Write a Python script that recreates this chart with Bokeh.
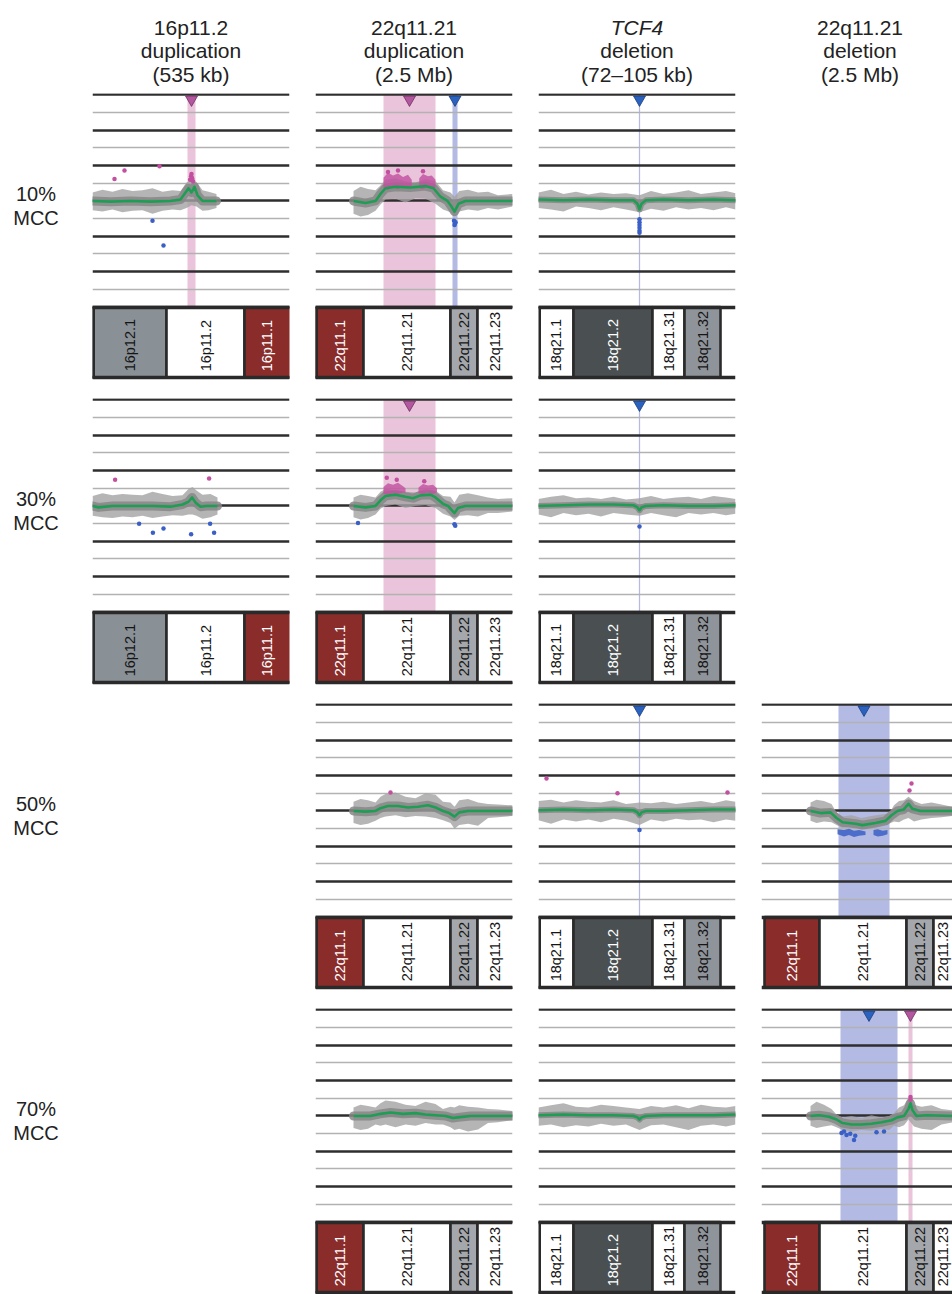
import math
from bokeh.plotting import figure
from bokeh.layouts import row, column
from bokeh.models import Spacer, Range1d
from bokeh.core.properties import value
from bokeh.embed import file_html
from bokeh.resources import INLINE

FONT = "Liberation Sans"

# ---------------- text ----------------
col_title_1 = ["16p11.2", "22q11.21", "TCF4", "22q11.21"]
col_title_2 = ["duplication", "duplication", "deletion", "deletion"]
col_title_3 = ["(535 kb)", "(2.5 Mb)", "(72\u2013105 kb)", "(2.5 Mb)"]
col_title_italic = [False, False, True, False]
row_labels = ["10%", "30%", "50%", "70%"]
row_label_2 = "MCC"

# ---------------- cytobands (Mb) ----------------
chr16_name = ["16p12.1", "16p11.2", "16p11.1"]
chr16_start = [25.90, 29.70, 33.60]
chr16_end = [29.70, 33.60, 36.50]
chr16_stain = ["gpos50", "gneg", "acen"]

chr22_name = ["22q11.1", "22q11.21", "22q11.22", "22q11.23"]
chr22_start = [16.72, 18.92, 22.40, 23.48]
chr22_end = [18.92, 22.40, 23.48, 25.50]
chr22_stain = ["acen", "gneg", "gpos25", "gneg"]

chr18_name = ["18q21.1", "18q21.2", "18q21.31", "18q21.32"]
chr18_start = [49.90, 51.40, 54.56, 55.84]
chr18_end = [51.40, 54.56, 55.84, 57.28]
chr18_stain = ["gneg", "gpos75", "gneg", "gpos50b"]

stain_fill = {"gneg": "#ffffff", "gpos25": "#a4a7ab", "gpos50": "#899096",
              "gpos50b": "#8f949a", "gpos75": "#4a4f52", "acen": "#8a2c2a"}
stain_text = {"gneg": "#151515", "gpos25": "#151515", "gpos50": "#151515",
              "gpos50b": "#151515", "gpos75": "#ffffff", "acen": "#ffffff"}

# visible window of each column (Mb)
col_x0 = [26.00, 17.00, 50.00, 16.60]
col_x1 = [35.85, 24.88, 57.88, 24.24]

# ---------------- column 1 : 16p11.2 duplication ----------------
r1c1_cloud_x = [26.0, 26.5, 27.0, 27.5, 28.0, 28.5, 29.0, 29.5, 30.0, 30.4, 30.7, 30.95, 31.2, 31.5, 31.8, 32.2]
r1c1_cloud_hi = [0.12, 0.16, 0.13, 0.17, 0.14, 0.15, 0.18, 0.13, 0.15, 0.14, 0.26, 0.30, 0.27, 0.15, 0.13, 0.10]
r1c1_cloud_lo = [-0.13, -0.15, -0.12, -0.16, -0.14, -0.13, -0.18, -0.14, -0.12, -0.13, -0.10, -0.06, -0.08, -0.14, -0.13, -0.10]
r1c1_fit_x = [26.0, 26.9, 27.9, 28.9, 29.9, 30.4, 30.65, 30.8, 30.95, 31.1, 31.25, 31.5, 32.2]
r1c1_fit_y = [0.0, -0.01, 0.0, -0.01, 0.0, 0.02, 0.12, 0.18, 0.12, 0.20, 0.08, 0.0, 0.0]
r1c1_gain_x = [27.1, 27.6, 29.35, 30.88, 30.93, 30.98, 31.03, 30.95]
r1c1_gain_y = [0.31, 0.43, 0.49, 0.30, 0.35, 0.32, 0.28, 0.38]
r1c1_loss_x = [29.0, 29.55]
r1c1_loss_y = [-0.28, -0.63]
r1c1_dup_regions = [(30.75, 31.15)]

r2c1_cloud_x = [26.0, 26.5, 27.0, 27.5, 28.0, 28.5, 29.0, 29.5, 30.0, 30.5, 30.8, 31.0, 31.2, 31.5, 31.9, 32.25]
r2c1_cloud_hi = [0.14, 0.18, 0.15, 0.17, 0.16, 0.15, 0.20, 0.17, 0.14, 0.15, 0.24, 0.27, 0.22, 0.16, 0.17, 0.12]
r2c1_cloud_lo = [-0.14, -0.16, -0.17, -0.15, -0.16, -0.14, -0.17, -0.15, -0.13, -0.14, -0.12, -0.12, -0.14, -0.18, -0.16, -0.12]
r2c1_fit_x = [26.0, 26.3, 27.0, 28.0, 29.0, 29.9, 30.5, 30.8, 30.98, 31.15, 31.4, 31.7, 32.25]
r2c1_fit_y = [0.0, -0.02, 0.0, 0.0, 0.0, -0.01, 0.02, 0.06, 0.12, 0.05, -0.01, 0.0, 0.0]
r2c1_gain_x = [27.13, 31.83]
r2c1_gain_y = [0.37, 0.39]
r2c1_loss_x = [28.33, 29.02, 29.55, 30.93, 31.88, 32.08]
r2c1_loss_y = [-0.25, -0.38, -0.32, -0.40, -0.25, -0.38]

# ---------------- column 2 : 22q11.21 duplication ----------------
c2_cloud_x = [18.52, 18.8, 19.1, 19.4, 19.6, 19.8, 20.2, 20.6, 21.0, 21.4, 21.8, 22.1, 22.4, 22.56, 22.75, 23.1, 23.5, 23.9, 24.3, 24.88]

r1c2_cloud_hi = [0.14, 0.20, 0.17, 0.15, 0.22, 0.30, 0.32, 0.28, 0.26, 0.31, 0.28, 0.15, 0.12, 0.06, 0.14, 0.16, 0.12, 0.13, 0.08, 0.10]
r1c2_cloud_lo = [-0.18, -0.22, -0.20, -0.14, -0.05, 0.02, 0.03, -0.02, 0.04, 0.03, -0.04, -0.12, -0.16, -0.22, -0.15, -0.12, -0.14, -0.10, -0.12, -0.08]
r1c2_fit_x = [18.52, 19.0, 19.4, 19.6, 19.8, 20.2, 20.8, 21.4, 21.72, 22.0, 22.28, 22.44, 22.56, 22.72, 23.0, 24.88]
r1c2_fit_y = [0.0, -0.03, 0.0, 0.10, 0.18, 0.20, 0.19, 0.21, 0.18, 0.06, 0.0, -0.08, -0.15, -0.04, 0.0, 0.0]
r1c2_gainc1_x = [19.72, 19.9, 20.1, 20.3, 20.5, 20.7, 20.85]
r1c2_gainc1_hi = [0.33, 0.40, 0.36, 0.39, 0.34, 0.37, 0.30]
r1c2_gainc1_lo = [0.18, 0.16, 0.19, 0.17, 0.20, 0.18, 0.20]
r1c2_gainc2_x = [21.15, 21.3, 21.5, 21.65, 21.8]
r1c2_gainc2_hi = [0.32, 0.38, 0.35, 0.36, 0.30]
r1c2_gainc2_lo = [0.18, 0.17, 0.20, 0.17, 0.19]
r1c2_gain_x = [19.9, 20.3, 21.3]
r1c2_gain_y = [0.41, 0.43, 0.42]
r1c2_loss_x = [22.54, 22.58, 22.56, 22.60]
r1c2_loss_y = [-0.28, -0.32, -0.34, -0.30]
r1c2_dup_regions = [(19.72, 21.80)]
r1c2_del_regions = [(22.48, 22.68)]

r2c2_cloud_hi = [0.12, 0.16, 0.14, 0.12, 0.20, 0.24, 0.22, 0.20, 0.19, 0.24, 0.22, 0.14, 0.13, 0.05, 0.16, 0.18, 0.15, 0.12, 0.10, 0.11]
r2c2_cloud_lo = [-0.16, -0.19, -0.17, -0.12, -0.04, 0.0, 0.02, -0.03, 0.0, 0.01, -0.03, -0.11, -0.15, -0.20, -0.14, -0.13, -0.15, -0.10, -0.10, -0.08]
r2c2_fit_x = [18.52, 19.0, 19.4, 19.6, 19.8, 20.2, 20.6, 20.9, 21.2, 21.6, 21.8, 22.1, 22.3, 22.45, 22.56, 22.7, 23.0, 24.88]
r2c2_fit_y = [0.0, -0.02, 0.0, 0.08, 0.14, 0.16, 0.13, 0.11, 0.15, 0.16, 0.12, 0.03, 0.0, -0.06, -0.10, -0.03, 0.0, 0.0]
r2c2_gainc1_x = [19.72, 19.9, 20.1, 20.3, 20.5, 20.6]
r2c2_gainc1_hi = [0.27, 0.32, 0.30, 0.33, 0.28, 0.25]
r2c2_gainc1_lo = [0.17, 0.16, 0.18, 0.17, 0.19, 0.19]
r2c2_gainc2_x = [21.12, 21.3, 21.5, 21.7, 21.86]
r2c2_gainc2_hi = [0.26, 0.31, 0.29, 0.30, 0.25]
r2c2_gainc2_lo = [0.18, 0.17, 0.19, 0.17, 0.19]
r2c2_gain_x = [19.85, 20.25, 21.35]
r2c2_gain_y = [0.40, 0.37, 0.35]
r2c2_loss_x = [22.56, 22.59, 18.70]
r2c2_loss_y = [-0.26, -0.28, -0.24]
r2c2_dup_regions = [(19.72, 21.80)]

r3c2_cloud_hi = [0.13, 0.17, 0.15, 0.12, 0.20, 0.24, 0.26, 0.20, 0.18, 0.25, 0.23, 0.13, 0.12, 0.06, 0.15, 0.17, 0.12, 0.10, 0.09, 0.08]
r3c2_cloud_lo = [-0.17, -0.20, -0.18, -0.14, -0.10, -0.08, -0.06, -0.09, -0.07, -0.08, -0.10, -0.13, -0.17, -0.25, -0.20, -0.18, -0.21, -0.10, -0.09, -0.07]
r3c2_fit_x = [18.52, 19.0, 19.4, 19.6, 19.9, 20.3, 20.7, 21.1, 21.5, 21.8, 22.1, 22.35, 22.56, 22.75, 23.1, 24.88]
r3c2_fit_y = [0.0, -0.01, 0.0, 0.04, 0.07, 0.07, 0.05, 0.06, 0.08, 0.05, 0.0, -0.03, -0.08, -0.02, 0.0, 0.0]
r3c2_gain_x = [20.0]
r3c2_gain_y = [0.26]

r4c2_cloud_hi = [0.12, 0.16, 0.14, 0.12, 0.18, 0.22, 0.20, 0.16, 0.14, 0.20, 0.17, 0.10, 0.13, 0.12, 0.15, 0.13, 0.12, 0.10, 0.09, 0.07]
r4c2_cloud_lo = [-0.17, -0.20, -0.18, -0.12, -0.14, -0.12, -0.16, -0.12, -0.14, -0.10, -0.12, -0.12, -0.16, -0.20, -0.18, -0.22, -0.19, -0.10, -0.09, -0.06]
r4c2_fit_x = [18.52, 19.2, 19.6, 20.0, 20.5, 21.0, 21.4, 21.8, 22.2, 22.5, 22.7, 23.2, 24.88]
r4c2_fit_y = [0.0, 0.0, 0.03, 0.05, 0.03, 0.04, 0.02, 0.01, 0.0, -0.03, -0.02, 0.0, 0.0]

# ---------------- column 3 : TCF4 deletion ----------------
c3_cloud_x = [50.0, 50.5, 51.0, 51.5, 52.0, 52.5, 53.0, 53.5, 54.04, 54.5, 55.0, 55.5, 56.0, 56.5, 57.0, 57.5, 57.88]
c3_fit_x = [50.0, 51.0, 52.0, 53.0, 53.8, 53.96, 54.04, 54.12, 54.3, 55.0, 56.0, 57.0, 57.88]
c3_del_regions = [(54.015, 54.065)]

r1c3_cloud_hi = [0.12, 0.16, 0.10, 0.13, 0.09, 0.12, 0.10, 0.11, 0.08, 0.14, 0.10, 0.12, 0.15, 0.10, 0.12, 0.14, 0.11]
r1c3_cloud_lo = [-0.10, -0.12, -0.15, -0.08, -0.10, -0.13, -0.09, -0.12, -0.16, -0.11, -0.14, -0.09, -0.12, -0.10, -0.13, -0.09, -0.12]
r1c3_fit_y = [0.02, 0.01, 0.02, 0.01, 0.01, -0.04, -0.12, -0.04, 0.01, 0.02, 0.01, 0.02, 0.01]
r1c3_loss_x = [54.04, 54.04, 54.04, 54.04, 54.04, 54.04]
r1c3_loss_y = [-0.26, -0.30, -0.34, -0.38, -0.42, -0.45]

r2c3_cloud_hi = [0.10, 0.13, 0.15, 0.11, 0.12, 0.10, 0.13, 0.09, 0.11, 0.14, 0.10, 0.12, 0.13, 0.10, 0.14, 0.12, 0.10]
r2c3_cloud_lo = [-0.12, -0.16, -0.10, -0.13, -0.11, -0.15, -0.10, -0.12, -0.14, -0.10, -0.13, -0.16, -0.10, -0.12, -0.10, -0.13, -0.11]
r2c3_fit_y = [0.0, 0.01, 0.02, 0.02, 0.01, -0.02, -0.06, -0.02, 0.0, 0.01, 0.0, 0.0, 0.01]
r2c3_loss_x = [54.04]
r2c3_loss_y = [-0.29]

r3c3_cloud_hi = [0.14, 0.16, 0.12, 0.15, 0.13, 0.12, 0.15, 0.10, 0.12, 0.11, 0.13, 0.10, 0.12, 0.14, 0.11, 0.15, 0.13]
r3c3_cloud_lo = [-0.13, -0.18, -0.12, -0.15, -0.12, -0.16, -0.11, -0.14, -0.20, -0.12, -0.15, -0.11, -0.13, -0.12, -0.16, -0.12, -0.14]
r3c3_fit_y = [0.01, 0.02, 0.01, 0.02, 0.01, -0.02, -0.06, -0.02, 0.0, 0.0, 0.01, 0.02, 0.02]
r3c3_gain_x = [50.32, 53.16, 57.56]
r3c3_gain_y = [0.46, 0.25, 0.26]
r3c3_loss_x = [54.04]
r3c3_loss_y = [-0.27]

r4c3_cloud_hi = [0.12, 0.15, 0.18, 0.13, 0.12, 0.16, 0.14, 0.12, 0.10, 0.14, 0.12, 0.15, 0.11, 0.16, 0.13, 0.12, 0.14]
r4c3_cloud_lo = [-0.14, -0.12, -0.16, -0.13, -0.15, -0.11, -0.14, -0.12, -0.20, -0.13, -0.12, -0.16, -0.20, -0.14, -0.12, -0.15, -0.12]
r4c3_fit_y = [0.01, 0.02, 0.01, 0.01, 0.0, -0.02, -0.05, -0.02, 0.0, 0.01, 0.01, 0.01, 0.02]

# ---------------- column 4 : 22q11.21 deletion ----------------
c4_cloud_x = [18.56, 18.8, 19.1, 19.4, 19.6, 19.84, 20.2, 20.6, 21.0, 21.4, 21.7, 21.9, 22.1, 22.3, 22.48, 22.7, 23.0, 23.4, 23.8, 24.24]

r3c4_cloud_hi = [0.12, 0.16, 0.14, 0.10, -0.02, -0.08, -0.06, -0.10, -0.07, -0.05, -0.04, 0.08, 0.14, 0.15, 0.20, 0.14, 0.10, 0.12, 0.09, 0.06]
r3c4_cloud_lo = [-0.14, -0.17, -0.15, -0.16, -0.20, -0.24, -0.22, -0.25, -0.23, -0.20, -0.18, -0.15, -0.16, -0.12, -0.10, -0.15, -0.12, -0.10, -0.09, -0.07]
r3c4_fit_x = [18.56, 18.96, 19.36, 19.6, 19.84, 20.36, 20.64, 21.16, 21.56, 21.8, 22.04, 22.28, 22.48, 22.64, 22.96, 24.24]
r3c4_fit_y = [0.0, -0.03, -0.02, -0.10, -0.16, -0.18, -0.20, -0.17, -0.14, -0.06, 0.0, 0.02, 0.10, 0.03, 0.0, 0.0]
r3c4_lossc1_x = [19.64, 19.9, 20.1, 20.3, 20.5, 20.76]
r3c4_lossc1_hi = [-0.26, -0.27, -0.25, -0.28, -0.27, -0.29]
r3c4_lossc1_lo = [-0.33, -0.36, -0.34, -0.37, -0.35, -0.34]
r3c4_lossc2_x = [21.08, 21.25, 21.45, 21.64]
r3c4_lossc2_hi = [-0.27, -0.26, -0.28, -0.27]
r3c4_lossc2_lo = [-0.34, -0.36, -0.35, -0.33]
r3c4_gain_x = [22.60, 22.52]
r3c4_gain_y = [0.39, 0.29]
r3c4_del_regions = [(19.68, 21.72)]

r4c4_cloud_hi = [0.14, 0.20, 0.16, 0.10, 0.02, -0.02, 0.0, -0.03, 0.01, -0.02, 0.0, 0.04, 0.12, 0.15, 0.26, 0.16, 0.13, 0.15, 0.10, 0.08]
r4c4_cloud_lo = [-0.14, -0.17, -0.15, -0.13, -0.16, -0.20, -0.22, -0.20, -0.21, -0.18, -0.20, -0.14, -0.16, -0.13, -0.05, -0.15, -0.18, -0.20, -0.12, -0.09]
r4c4_fit_x = [18.56, 18.9, 19.3, 19.6, 19.84, 20.2, 20.6, 21.0, 21.4, 21.8, 22.04, 22.3, 22.48, 22.56, 22.64, 22.8, 23.2, 24.24]
r4c4_fit_y = [0.0, 0.01, -0.01, -0.05, -0.10, -0.12, -0.12, -0.11, -0.09, -0.06, -0.02, 0.0, 0.10, 0.18, 0.08, 0.0, 0.01, 0.0]
r4c4_loss_x = [19.8, 19.9, 20.0, 20.15, 20.3, 20.35, 21.2, 21.5]
r4c4_loss_y = [-0.24, -0.22, -0.27, -0.25, -0.34, -0.28, -0.23, -0.22]
r4c4_gain_x = [22.56, 22.56]
r4c4_gain_y = [0.27, 0.23]
r4c4_del_regions = [(19.76, 22.04)]
r4c4_dup_regions = [(22.48, 22.64)]

# ---------------- assemble panels ----------------
def pan(cx, hi, lo, fx, fy, gain=((), ()), loss=((), ()), gclust=(), lclust=(), dup=(), dele=()):
    return dict(cx=cx, hi=hi, lo=lo, fx=fx, fy=fy, gain=gain, loss=loss,
                gclust=gclust, lclust=lclust, dup=dup, dele=dele)

PANELS = {
    (0, 0): pan(r1c1_cloud_x, r1c1_cloud_hi, r1c1_cloud_lo, r1c1_fit_x, r1c1_fit_y,
                (r1c1_gain_x, r1c1_gain_y), (r1c1_loss_x, r1c1_loss_y), dup=r1c1_dup_regions),
    (1, 0): pan(r2c1_cloud_x, r2c1_cloud_hi, r2c1_cloud_lo, r2c1_fit_x, r2c1_fit_y,
                (r2c1_gain_x, r2c1_gain_y), (r2c1_loss_x, r2c1_loss_y)),
    (0, 1): pan(c2_cloud_x, r1c2_cloud_hi, r1c2_cloud_lo, r1c2_fit_x, r1c2_fit_y,
                (r1c2_gain_x, r1c2_gain_y), (r1c2_loss_x, r1c2_loss_y),
                gclust=[(r1c2_gainc1_x, r1c2_gainc1_hi, r1c2_gainc1_lo), (r1c2_gainc2_x, r1c2_gainc2_hi, r1c2_gainc2_lo)],
                dup=r1c2_dup_regions, dele=r1c2_del_regions),
    (1, 1): pan(c2_cloud_x, r2c2_cloud_hi, r2c2_cloud_lo, r2c2_fit_x, r2c2_fit_y,
                (r2c2_gain_x, r2c2_gain_y), (r2c2_loss_x, r2c2_loss_y),
                gclust=[(r2c2_gainc1_x, r2c2_gainc1_hi, r2c2_gainc1_lo), (r2c2_gainc2_x, r2c2_gainc2_hi, r2c2_gainc2_lo)],
                dup=r2c2_dup_regions),
    (2, 1): pan(c2_cloud_x, r3c2_cloud_hi, r3c2_cloud_lo, r3c2_fit_x, r3c2_fit_y,
                (r3c2_gain_x, r3c2_gain_y)),
    (3, 1): pan(c2_cloud_x, r4c2_cloud_hi, r4c2_cloud_lo, r4c2_fit_x, r4c2_fit_y),
    (0, 2): pan(c3_cloud_x, r1c3_cloud_hi, r1c3_cloud_lo, c3_fit_x, r1c3_fit_y,
                loss=(r1c3_loss_x, r1c3_loss_y), dele=c3_del_regions),
    (1, 2): pan(c3_cloud_x, r2c3_cloud_hi, r2c3_cloud_lo, c3_fit_x, r2c3_fit_y,
                loss=(r2c3_loss_x, r2c3_loss_y), dele=c3_del_regions),
    (2, 2): pan(c3_cloud_x, r3c3_cloud_hi, r3c3_cloud_lo, c3_fit_x, r3c3_fit_y,
                (r3c3_gain_x, r3c3_gain_y), (r3c3_loss_x, r3c3_loss_y), dele=c3_del_regions),
    (3, 2): pan(c3_cloud_x, r4c3_cloud_hi, r4c3_cloud_lo, c3_fit_x, r4c3_fit_y),
    (2, 3): pan(c4_cloud_x, r3c4_cloud_hi, r3c4_cloud_lo, r3c4_fit_x, r3c4_fit_y,
                (r3c4_gain_x, r3c4_gain_y),
                lclust=[(r3c4_lossc1_x, r3c4_lossc1_hi, r3c4_lossc1_lo), (r3c4_lossc2_x, r3c4_lossc2_hi, r3c4_lossc2_lo)],
                dele=r3c4_del_regions),
    (3, 3): pan(c4_cloud_x, r4c4_cloud_hi, r4c4_cloud_lo, r4c4_fit_x, r4c4_fit_y,
                (r4c4_gain_x, r4c4_gain_y), (r4c4_loss_x, r4c4_loss_y),
                dup=r4c4_dup_regions, dele=r4c4_del_regions),
}

COL_BANDS = [
    (chr16_name, chr16_start, chr16_end, chr16_stain),
    (chr22_name, chr22_start, chr22_end, chr22_stain),
    (chr18_name, chr18_start, chr18_end, chr18_stain),
    (chr22_name, chr22_start, chr22_end, chr22_stain),
]

# ---------------- layout / style ----------------
LABEL_W = 92
FRAME_W = 197
CELL_W = 223
LAST_W = 191
HEADER_H = 93
FRAME_H = 287
ROW_GAP = 18
LAST_FRAME_H = 286
PX_PER_UNIT = 70.7
YTOP = 1.52
PLOT_TOP = 1.5
IDEO_TOP = -1.5
IDEO_BOT = -2.5
THICK = [1.5, 1.0, 0.5, 0.0, -0.5, -1.0]
THIN = [1.25, 0.75, 0.25, -0.25, -0.75, -1.25]

DUP_BAND = "#e9c4da"
DEL_BAND = "#b3bae4"
DUP_TRI = "#b3579e"
DEL_TRI = "#2b62c0"
GAIN = "#c24f9f"
LOSS = "#3a5fc6"
GREEN = "#1e9e54"
CLOUD = "#a2a2a2"
CORE = "#878787"
CORE_W = [9, 9, 6, 9]


def base_fig(w, h, fh, x0, x1, right_border):
    ylo = YTOP - fh / PX_PER_UNIT
    p = figure(width=w, height=h, x_range=Range1d(x0, x1), y_range=Range1d(ylo, YTOP),
               output_backend="svg", toolbar_location=None, title=None,
               x_axis_location=None, y_axis_location=None,
               min_border_left=0, min_border_right=right_border,
               min_border_top=0, min_border_bottom=h - fh,
               outline_line_color=None, background_fill_color="white",
               border_fill_color="white")
    p.xgrid.visible = False
    p.ygrid.visible = False
    return p


def make_panel(ri, ci):
    last_row = ri == 3
    last_col = ci == 3
    fh = LAST_FRAME_H if last_row else FRAME_H
    h = fh if last_row else FRAME_H + ROW_GAP
    w = LAST_W if last_col else CELL_W
    fw = LAST_W if last_col else FRAME_W
    key = (ri, ci)
    if key not in PANELS:
        return Spacer(width=w, height=h)
    d = PANELS[key]
    x0, x1 = col_x0[ci], col_x1[ci]
    p = base_fig(w, h, fh, x0, x1, w - fw)

    # highlighted CNV regions
    for regs, col in ((d["dup"], DUP_BAND), (d["dele"], DEL_BAND)):
        if regs:
            p.quad(left=[r[0] for r in regs], right=[r[1] for r in regs],
                   top=PLOT_TOP, bottom=IDEO_TOP, fill_color=col, line_color=None)

    # reference lines
    p.hspan(y=THIN, line_color="#b2b2b2", line_width=1.6)
    p.hspan(y=THICK, line_color="#2e2e2e", line_width=2.6)

    # ideogram
    names, st, en, stain = COL_BANDS[ci]
    p.quad(left=st, right=en, top=IDEO_TOP, bottom=IDEO_BOT,
           fill_color=[stain_fill[s] for s in stain], line_color="#2a2a2a", line_width=2.6)
    if st[0] < x0:
        p.segment(x0=[x0], y0=[IDEO_TOP], x1=[x0], y1=[IDEO_BOT], line_color="#2a2a2a", line_width=5)
    p.hspan(y=[IDEO_TOP, IDEO_BOT], line_color="#2a2a2a", line_width=3.6)
    cx, nm, tc = [], [], []
    for n, a, b, s in zip(names, st, en, stain):
        a2, b2 = max(a, x0), min(b, x1)
        if b2 > a2:
            cx.append((a2 + b2) / 2)
            nm.append(n)
            tc.append(stain_text[s])
    p.text(x=cx, y=-2.41, text=nm, angle=math.pi / 2, text_align="left", text_baseline="middle",
           text_font=value(FONT), text_font_size="14.5px", text_color=tc)

    # probe cloud, smoothed fit
    p.varea(x=d["cx"], y1=d["lo"], y2=d["hi"], fill_color=CLOUD, fill_alpha=0.8)
    p.line(d["fx"], d["fy"], line_color=CORE, line_width=CORE_W[ci], line_alpha=0.85,
           line_join="round", line_cap="round")
    for cxs, hi, lo in d["gclust"]:
        p.varea(x=cxs, y1=lo, y2=hi, fill_color=GAIN, fill_alpha=0.8)
    for cxs, hi, lo in d["lclust"]:
        p.varea(x=cxs, y1=lo, y2=hi, fill_color=LOSS, fill_alpha=0.85)
    p.line(d["fx"], d["fy"], line_color=GREEN, line_width=2.6, line_join="round")
    gx, gy = d["gain"]
    if gx:
        p.scatter(list(gx), list(gy), size=4.5, fill_color=GAIN, line_color=None)
    lx, ly = d["loss"]
    if lx:
        p.scatter(list(lx), list(ly), size=4.5, fill_color=LOSS, line_color=None)

    # triangles marking CNV
    tri_y = PLOT_TOP - 4.6 / PX_PER_UNIT
    for regs, col, lc in ((d["dup"], DUP_TRI, "#6e2f62"), (d["dele"], DEL_TRI, "#1b3d7a")):
        if regs:
            p.scatter([(r[0] + r[1]) / 2 for r in regs], [tri_y] * len(regs),
                      marker="inverted_triangle", size=12, fill_color=col,
                      line_color=lc, line_width=0.8)
    return p


def make_label(ri):
    last_row = ri == 3
    fh = LAST_FRAME_H if last_row else FRAME_H
    h = fh if last_row else FRAME_H + ROW_GAP
    p = base_fig(LABEL_W, h, fh, 0, LABEL_W, 0)
    p.text(x=[35.5, 35.5], y=[7.2 / PX_PER_UNIT, -16.8 / PX_PER_UNIT],
           text=[row_labels[ri], row_label_2], text_align="center", text_baseline="alphabetic",
           text_font=value(FONT), text_font_size="20px", text_color="#222222")
    return p


# header
TOTAL_W = LABEL_W + 3 * CELL_W + LAST_W
hdr = figure(width=TOTAL_W, height=HEADER_H,
             x_range=Range1d(0, TOTAL_W), y_range=Range1d(HEADER_H, 0),
             output_backend="svg", toolbar_location=None, title=None,
             x_axis_location=None, y_axis_location=None, min_border=0, outline_line_color=None)
hdr.xgrid.visible = False
hdr.ygrid.visible = False
hx = [LABEL_W + i * CELL_W + FRAME_W / 2 for i in range(4)]
for lines_, yb in ((col_title_2, 50.3), (col_title_3, 74.0)):
    hdr.text(x=hx, y=[yb] * 4, text=lines_, text_align="center", text_baseline="alphabetic",
             text_font=value(FONT), text_font_size="21px", text_color="#222222")
for x, t, it in zip(hx, col_title_1, col_title_italic):
    hdr.text(x=[x], y=[26.7], text=[t], text_align="center", text_baseline="alphabetic",
             text_font=value(FONT), text_font_size="21px", text_color="#222222",
             text_font_style="italic" if it else "normal")

rows = [hdr]
for ri in range(4):
    rows.append(row([make_label(ri)] + [make_panel(ri, ci) for ci in range(4)]))

layout = column(rows)
open("out.html", "w").write(file_html(layout, INLINE))
